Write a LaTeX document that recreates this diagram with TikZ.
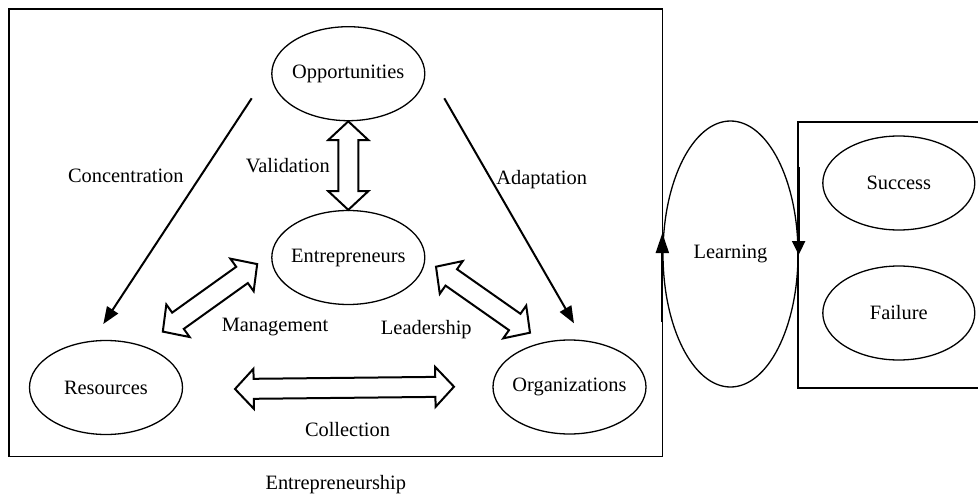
\documentclass[tikz,border=0pt]{standalone}
\usepackage{fontspec}
\setmainfont{Liberation Serif}
\usetikzlibrary{shapes.geometric,shapes.arrows,arrows.meta,calc}

\tikzset{
  oval/.style={ellipse, draw, line width=1.3pt, minimum width=153pt, minimum height=94pt,
    inner sep=0pt, font=\fontsize{20.4pt}{24pt}\selectfont},
  lbl/.style={inner sep=0pt, font=\fontsize{20.4pt}{24pt}\selectfont},
  flow/.style={line width=2pt, -{Triangle[length=17pt, width=13pt]}, shorten >=0pt},
  blockarrow/.style={double arrow, draw, line width=2pt, fill=white, inner xsep=0pt,
    inner ysep=9pt, minimum width=0pt, double arrow head extend=10pt,
    double arrow tip angle=94, outer sep=0pt},
  frame/.style={line width=1.3pt},
}
% block double arrow between two points
\newcommand{\blockarr}[2]{%
  \path let \p1=(#1), \p2=(#2), \n1={atan2(\y2-\y1,\x2-\x1)}, \n2={veclen(\x2-\x1,\y2-\y1)}
    in node[blockarrow, minimum height=\n2, rotate=\n1] at ($(\p1)!0.5!(\p2)$) {};}
\newcommand{\ctext}[1]{\makebox[0pt][c]{#1}}

\begin{document}
\begin{tikzpicture}[x=1pt, y=-1pt]
\useasboundingbox (0,0) rectangle (978,495);

% frames
\draw[frame] (9,9) rectangle (662.7,456.7);
\draw[frame] (978,122) -- (798,122) -- (798,388) -- (978,388);

% main ovals
\node[oval] (opp) at (348.3,73.7) {\ctext{Opportunities}};
\node[oval] (ent) at (348.3,257.5) {\ctext{Entrepreneurs}};
\node[oval] (res) at (106,387.5) {\ctext{Resources}};
\node[oval] (org) at (569.5,387) {\ctext{Organizations}};
\node[oval, minimum width=135pt, minimum height=266pt] (learn) at (730.5,254) {\ctext{Learning}};
\node[oval, minimum width=152pt] (succ) at (898.8,183) {\ctext{Success}};
\node[oval, minimum width=152pt] (fail) at (898.8,313) {\ctext{Failure}};

% arrow ends
\coordinate (c1) at (251.7,98.3);
\coordinate (c2) at (103.3,324);
\coordinate (a1) at (444.3,98.3);
\coordinate (a2) at (574,323.3);
\coordinate (m1) at (162.7,331.7);
\coordinate (m2) at (257.3,264);
\coordinate (l1) at (436,266.7);
\coordinate (l2) at (530,332.7);
\coordinate (k1) at (235,389);
\coordinate (k2) at (454,386.7);

% plain arrows
\draw[flow] (c1) -- (c2);
\draw[flow] (a1) -- (a2);

% block double arrows
\blockarr{opp.south}{ent.north}
\blockarr{m1}{m2}
\blockarr{l1}{l2}
\blockarr{k1}{k2}

% learning loop arrows
\draw[line width=2pt, -{Triangle[length=20pt, width=13pt]}]
  ($(learn.west)+(0,68)$) -- ($(learn.west)+(0,-21)$);
\draw[line width=2pt, -{Triangle[length=14pt, width=13pt]}]
  ($(learn.east)+(0,-87)$) -- ($(learn.east)+(0,1)$);

% labels
\node[lbl] (tconc) at (125.8,176) {Concentration};
\node[lbl] (tval) at (287.8,165.7) {Validation};
\node[lbl] (tadap) at (541.7,180) {Adaptation};
\node[lbl] (tman) at (275,327.3) {Management};
\node[lbl] (tlead) at (426.3,329.3) {Leadership};
\node[lbl] (tcoll) at (347.5,430) {Collection};
\node[lbl] (tentp) at (335.8,485) {Entrepreneurship};
\end{tikzpicture}
\end{document}
